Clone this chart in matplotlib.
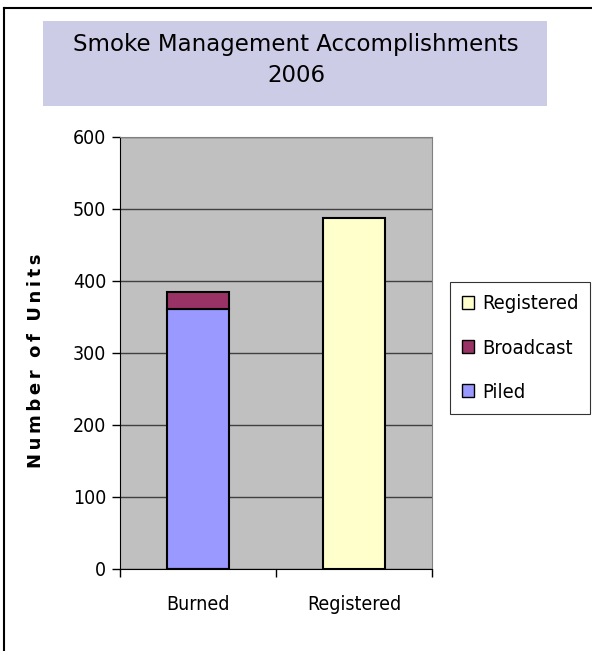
import matplotlib.pyplot as plt
from matplotlib.patches import Rectangle, Patch
from matplotlib.lines import Line2D

# dane
kategorie = ["Burned", "Registered"]
piled = [361, 0]
broadcast = [24, 0]
registered = [0, 487]
yticks = [0, 100, 200, 300, 400, 500, 600]

narrow = {"family": ["DejaVu Sans"], "stretch": "condensed", "size": 14}

fig = plt.figure(figsize=(5.92, 6.51), dpi=100)
fig.patch.set_facecolor("white")

# ramka wykresu (widoczna tylko lewa i gorna krawedz)
fig.add_artist(Line2D([4 / 592, 4 / 592], [0, 1 - 8 / 651], color="black", lw=1.5))
fig.add_artist(Line2D([4 / 592, 1], [1 - 8 / 651, 1 - 8 / 651], color="black", lw=1.5))

# pole tytulu
fig.add_artist(Rectangle((43 / 592, 1 - 106 / 651), (547 - 43) / 592, 85 / 651,
                         transform=fig.transFigure, facecolor="#ccccE6", edgecolor="none"))
fig.text(296 / 592, 1 - 45 / 651, "Smoke Management Accomplishments", ha="center", va="center",
         fontsize=16.5, family="DejaVu Sans")
fig.text(296 / 592, 1 - 75 / 651, "2006", ha="center", va="center",
         fontsize=16.5, family="DejaVu Sans")

ax = fig.add_axes([120 / 592, 82 / 651, 312 / 592, 432 / 651])
ax.set_facecolor("#c0c0c0")

x = range(len(kategorie))
ax.bar(x, piled, width=0.4, color="#9999ff", edgecolor="black", linewidth=1.5, zorder=3)
ax.bar(x, broadcast, width=0.4, bottom=piled, color="#993366", edgecolor="black",
       linewidth=1.5, zorder=3)
ax.bar(x, registered, width=0.4, color="#ffffcc", edgecolor="black", linewidth=1.5, zorder=3)

ax.set_xlim(-0.5, 1.5)
ax.set_ylim(0, 600)
ax.set_yticks(yticks)
ax.set_yticklabels([str(t) for t in yticks], fontproperties=narrow)
ax.yaxis.grid(True, color="#404040", linewidth=1, zorder=0)
ax.set_axisbelow(True)

ax.set_xticks(list(x))
ax.set_xticklabels(kategorie, fontproperties=narrow)
ax.tick_params(axis="x", length=0, pad=19)
ax.set_xticks([-0.5, 0.5, 1.5], minor=True)
ax.tick_params(axis="x", which="minor", length=6, width=1, color="black")
ax.tick_params(axis="y", length=6, width=1, pad=4)

ax.spines["left"].set_color("black")
ax.spines["bottom"].set_color("black")
ax.spines["top"].set_color("#808080")
ax.spines["right"].set_color("#808080")

# rozstrzelony podpis osi
podpis = "  ".join("\u2009".join(slowo) for slowo in "Number of Units".split())
ax.set_ylabel(podpis, fontsize=13, fontweight="bold")
ax.yaxis.set_label_coords(-0.24, 0.481)

# legenda
uchwyty = [
    Patch(facecolor="#ffffcc", edgecolor="black", label="Registered"),
    Patch(facecolor="#993366", edgecolor="black", label="Broadcast"),
    Patch(facecolor="#9999ff", edgecolor="black", label="Piled"),
]
leg = fig.legend(handles=uchwyty, loc="center", bbox_to_anchor=(520 / 592, 1 - 348 / 651),
                 prop={"family": ["DejaVu Sans"], "stretch": "condensed", "size": 14.5},
                 frameon=True, fancybox=False,
                 edgecolor="black", handlelength=0.6, handleheight=0.6, handletextpad=0.4,
                 labelspacing=1.25, borderpad=0.6)
leg.get_frame().set_linewidth(0.8)

fig.savefig("out.png", dpi=100)
